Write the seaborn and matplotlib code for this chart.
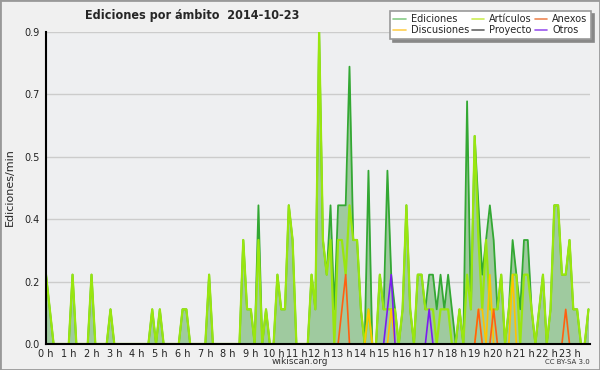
import numpy as np
import pandas as pd
import seaborn as sns
import matplotlib.pyplot as plt
from matplotlib.lines import Line2D
from matplotlib.patches import Rectangle
from matplotlib.ticker import FixedLocator, MultipleLocator

# Data: edits per minute in 10 minute bins (6 bins per hour, 144 bins)

ediciones = [
    0.2, 0.1, 0, 0, 0, 0,
    0, 0.2, 0, 0, 0, 0,
    0.2, 0, 0, 0, 0, 0.1,
    0, 0, 0, 0, 0, 0,
    0, 0, 0, 0, 0.1, 0,
    0.1, 0, 0, 0, 0, 0,
    0.1, 0.1, 0, 0, 0, 0,
    0, 0.2, 0, 0, 0, 0,
    0, 0, 0, 0, 0.3, 0.1,
    0.1, 0, 0.4, 0, 0.1, 0,
    0, 0.2, 0.1, 0.1, 0.4, 0.3,
    0, 0, 0, 0, 0.2, 0.1,
    0.9, 0.3, 0.2, 0.4, 0.1, 0.4,
    0.4, 0.4, 0.8, 0.3, 0.3, 0.1,
    0, 0.5, 0, 0, 0.2, 0.1,
    0.5, 0.2, 0.1, 0, 0.1, 0.4,
    0.1, 0, 0.2, 0.2, 0.1, 0.2,
    0.2, 0.1, 0.2, 0.1, 0.2, 0.1,
    0, 0.1, 0, 0.7, 0.1, 0.6,
    0.4, 0.2, 0.3, 0.4, 0.3, 0.1,
    0.2, 0, 0.1, 0.3, 0.2, 0.1,
    0.3, 0.3, 0.1, 0, 0.1, 0.2,
    0, 0.1, 0.4, 0.4, 0.2, 0.2,
    0.3, 0.1, 0.1, 0, 0, 0.1,
]

articulos = [
    0.2, 0.1, 0, 0, 0, 0,
    0, 0.2, 0, 0, 0, 0,
    0.2, 0, 0, 0, 0, 0.1,
    0, 0, 0, 0, 0, 0,
    0, 0, 0, 0, 0.1, 0,
    0.1, 0, 0, 0, 0, 0,
    0.1, 0.1, 0, 0, 0, 0,
    0, 0.2, 0, 0, 0, 0,
    0, 0, 0, 0, 0.3, 0.1,
    0.1, 0, 0.3, 0, 0.1, 0,
    0, 0.2, 0.1, 0.1, 0.4, 0.3,
    0, 0, 0, 0, 0.2, 0.1,
    0.9, 0.3, 0.2, 0.3, 0, 0.3,
    0.3, 0.2, 0.4, 0.3, 0.3, 0.1,
    0, 0.1, 0, 0, 0.2, 0.1,
    0.1, 0.1, 0.1, 0, 0.1, 0.4,
    0.1, 0, 0.2, 0.2, 0.1, 0.1,
    0.1, 0, 0.1, 0.1, 0.1, 0,
    0, 0.1, 0, 0.2, 0.1, 0.6,
    0.3, 0.1, 0.3, 0.1, 0.1, 0.1,
    0.2, 0, 0.1, 0.2, 0.2, 0,
    0.2, 0.2, 0.1, 0, 0.1, 0.2,
    0, 0.1, 0.4, 0.4, 0.2, 0.2,
    0.3, 0.1, 0.1, 0, 0, 0.1,
]

# sparse series: bin index and value
anexos_bins = [78, 79, 114, 118, 137]
anexos_vals = [0.1, 0.2, 0.1, 0.1, 0.1]
discusiones_bins = [85, 91, 114, 115, 117, 123]
discusiones_vals = [0.1, 0.1, 0.1, 0.1, 0.2, 0.2]
otros_bins = [90, 91, 101]
otros_vals = [0.1, 0.2, 0.1]
proyecto_bins = []
proyecto_vals = []

hour_labels = [str(h) + ' h' for h in range(24)]
y_tick_pos = [0, 0.18, 0.36, 0.54, 0.72, 0.9]
y_tick_labels = ['0.0', '0.2', '0.4', '0.5', '0.7', '0.9']

# Build the data frame

df = pd.DataFrame({'hora': np.arange(len(ediciones)) / 6,
                   'Ediciones': ediciones, 'Artículos': articulos})
for name, bins, vals in [('Anexos', anexos_bins, anexos_vals),
                         ('Discusiones', discusiones_bins, discusiones_vals),
                         ('Otros', otros_bins, otros_vals),
                         ('Proyecto', proyecto_bins, proyecto_vals)]:
    col = np.zeros(len(df))
    col[bins] = vals
    df[name] = col

# Plot

sns.set_style('white')
plt.rcParams['font.family'] = ['DejaVu Sans']

fig = plt.figure(figsize=(6, 3.7), dpi=100, facecolor='#f0f0f0')
ax = fig.add_axes([46/600, 26/370, 544/600, 312/370])
ax.set_facecolor('#eeeff1')

ax.fill_between(df['hora'], df['Ediciones'], color='#9fca9f', lw=0, zorder=2)
sns.lineplot(data=df, x='hora', y='Ediciones', color='#33a833', lw=1.3, ax=ax, zorder=3)
sns.lineplot(data=df, x='hora', y='Proyecto', color='#444444', lw=1.2, ax=ax, zorder=3)
sns.lineplot(data=df, x='hora', y='Artículos', color='#99e60f', lw=1.6, ax=ax, zorder=4)
sns.lineplot(data=df, x='hora', y='Discusiones', color='#ffc400', lw=1.2, ax=ax, zorder=5)
sns.lineplot(data=df, x='hora', y='Anexos', color='#ff6010', lw=1.2, ax=ax, zorder=5)
sns.lineplot(data=df, x='hora', y='Otros', color='#7a1cf0', lw=1.2, ax=ax, zorder=5)

ax.set_xlim(0, 143.4 / 6)
ax.set_ylim(0, 0.9)
ax.set_xlabel('')
ax.set_ylabel('')

ax.xaxis.set_major_locator(FixedLocator(range(24)))
ax.set_xticklabels(hour_labels)
ax.xaxis.set_minor_locator(MultipleLocator(1 / 6))
ax.yaxis.set_major_locator(FixedLocator(y_tick_pos))
ax.set_yticklabels(y_tick_labels)
ax.yaxis.set_minor_locator(MultipleLocator(0.045))

ax.tick_params(axis='both', which='both', direction='out', color='black',
               labelsize=7, labelcolor='#222222')
ax.tick_params(axis='both', which='major', length=3.5, width=1)
ax.tick_params(axis='both', which='minor', length=3, width=1)
ax.tick_params(axis='x', pad=0)
ax.tick_params(axis='y', pad=1)

ax.yaxis.grid(True, color='#cccccc', lw=1)
ax.set_axisbelow(True)
for side in ['top', 'right']:
    ax.spines[side].set_visible(False)
for side in ['left', 'bottom']:
    ax.spines[side].set_color('black')
    ax.spines[side].set_linewidth(1.5)
    ax.spines[side].set_zorder(6)

# Texts

fig.text(85/600, 1 - 15/370, 'Ediciones por ámbito  2014-10-23', fontsize=9,
         fontweight='bold', fontstretch='condensed', ha='left', va='center')
fig.text(10/600, 1 - 187/370, 'Ediciones/min', rotation=90, fontsize=8,
         ha='center', va='center')
fig.text(300/600, 1 - 362/370, 'wikiscan.org', fontsize=6.5, ha='center', va='center',
         color='#333333')
fig.text(590/600, 1 - 362/370, 'CC BY-SA 3.0', fontsize=5, ha='right', va='center',
         color='#333333')

# Legend

labels = ['Ediciones', 'Discusiones', 'Artículos', 'Proyecto', 'Anexos', 'Otros']
colors = ['#88cc88', '#ffd050', '#ccee55', '#666666', '#ee8855', '#9955ee']
handles = [Line2D([], [], color=c, lw=1.2) for c in colors]
leg = fig.legend(handles, labels, ncol=3, loc='upper right',
                 bbox_to_anchor=(591/600, 1 - 11/370), fontsize=7, frameon=True,
                 fancybox=False, shadow={'ox': 2, 'oy': -2, 'color': '#888888', 'alpha': 1},
                 handlelength=1.3, handletextpad=0.5, columnspacing=0.3,
                 labelspacing=0.1, borderpad=0.35, borderaxespad=0)
leg.get_frame().set_edgecolor('#999999')
leg.get_frame().set_linewidth(1.2)
leg.get_frame().set_facecolor('white')
leg.set_zorder(10)

fig.patches.append(Rectangle((0, 0), 1, 1, transform=fig.transFigure, fill=False,
                             ec='#999999', lw=2))

fig.savefig('out.png', dpi=100, facecolor=fig.get_facecolor())
